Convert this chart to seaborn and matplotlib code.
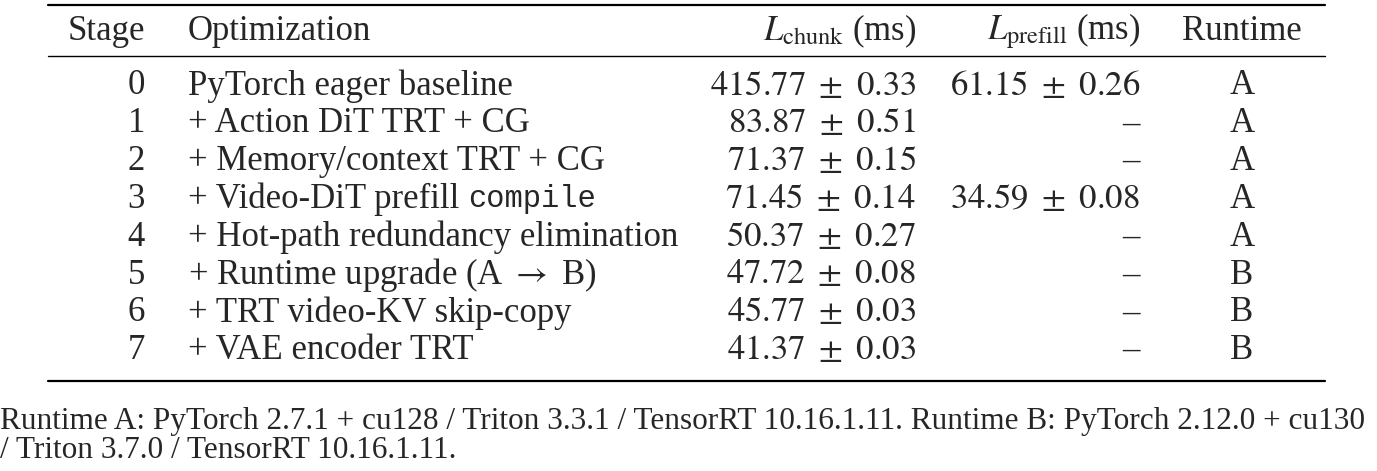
import matplotlib
matplotlib.use("Agg")
import matplotlib.pyplot as plt
import seaborn as sns

sns.set_theme(style="white")
plt.rcParams['font.family'] = ['Liberation Serif', 'DejaVu Serif']
plt.rcParams['mathtext.fontset'] = 'stix'

# table data
stages = ['0', '1', '2', '3', '4', '5', '6', '7']
optimizations = ['PyTorch eager baseline', '+ Action DiT TRT + CG',
                 '+ Memory/context TRT + CG', '+ Video-DiT prefill ',
                 '+ Hot-path redundancy elimination',
                 r'+ Runtime upgrade (A $\rightarrow$ B)',
                 '+ TRT video-KV skip-copy', '+ VAE encoder TRT']
chunk_mean = ['415.77', '83.87', '71.37', '71.45', '50.37', '47.72', '45.77', '41.37']
chunk_std = ['0.33', '0.51', '0.15', '0.14', '0.27', '0.08', '0.03', '0.03']
prefill = [('61.15', '0.26'), None, None, ('34.59', '0.08'), None, None, None, None]
runtimes = ['A', 'A', 'A', 'A', 'A', 'B', 'B', 'B']
footnote = ["Runtime A: PyTorch 2.7.1 + cu128 / Triton 3.3.1 / TensorRT 10.16.1.11. "
            "Runtime B: PyTorch 2.12.0 + cu130",
            "/ Triton 3.7.0 / TensorRT 10.16.1.11."]

fig = plt.figure(figsize=(13.77, 4.71), dpi=100)
ax = fig.add_axes([0, 0, 1, 1])
ax.set_xlim(0, 1377)
ax.set_ylim(471, 0)
ax.axis('off')

fs = 25
for y, lw in [(5, 1.6), (56, 1.0), (381, 1.6)]:
    ax.plot([48, 1325], [y, y], color='black', lw=lw)

hy = 31
ax.text(145, hy, 'Stage', ha='right', va='center', fontsize=fs)
ax.text(188, hy, 'Optimization', ha='left', va='center', fontsize=fs)
ax.text(916, hy, r'$L_{\mathrm{chunk}}$ (ms)', ha='right', va='center', fontsize=fs)
ax.text(1140, hy, r'$L_{\mathrm{prefill}}$ (ms)', ha='right', va='center', fontsize=fs)
ax.text(1242, hy, 'Runtime', ha='center', va='center', fontsize=fs)

fig.canvas.draw()
renderer = fig.canvas.get_renderer()
y0, dy = 86, 37.8
for i in range(len(stages)):
    y = y0 + i * dy
    ax.text(145, y, stages[i], ha='right', va='center', fontsize=fs)
    t = ax.text(188, y, optimizations[i], ha='left', va='center', fontsize=fs)
    if i == 3:
        bb = t.get_window_extent(renderer)
        xe = ax.transData.inverted().transform((bb.x1, 0))[0]
        ax.text(xe, y, 'compile', ha='left', va='center', fontsize=fs - 3,
                family='Liberation Mono')
    ax.text(916, y, r'$%s \ \pm\ %s$' % (chunk_mean[i], chunk_std[i]),
            ha='right', va='center', fontsize=fs)
    if prefill[i]:
        ax.text(1140, y, r'$%s \ \pm\ %s$' % prefill[i], ha='right', va='center', fontsize=fs)
    else:
        ax.text(1140, y, '–', ha='right', va='center', fontsize=fs)
    ax.text(1242, y, runtimes[i], ha='center', va='center', fontsize=fs)

ax.text(0, 422, footnote[0], ha='left', va='center', fontsize=22.5)
ax.text(0, 450, footnote[1], ha='left', va='center', fontsize=22.5)

fig.savefig('out.png', dpi=100)
